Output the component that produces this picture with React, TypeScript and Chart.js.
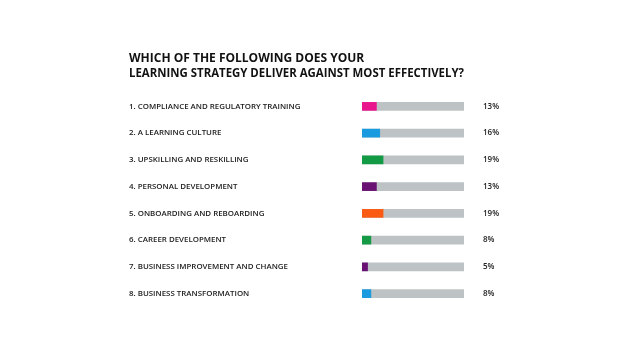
import React, { useEffect, useRef } from "react";
import { Chart, registerables } from "chart.js";

Chart.register(...registerables);

const titleLines = [
  "WHICH OF THE FOLLOWING DOES YOUR",
  "LEARNING STRATEGY DELIVER AGAINST MOST EFFECTIVELY?",
];

const categories = [
  "1. COMPLIANCE AND REGULATORY TRAINING",
  "2. A LEARNING CULTURE",
  "3. UPSKILLING AND RESKILLING",
  "4. PERSONAL DEVELOPMENT",
  "5. ONBOARDING AND REBOARDING",
  "6. CAREER DEVELOPMENT",
  "7. BUSINESS IMPROVEMENT AND CHANGE",
  "8. BUSINESS TRANSFORMATION",
];

const values = [13, 16, 19, 13, 19, 8, 5, 8];

const barColors = [
  "#e8158c",
  "#1a9be0",
  "#139a45",
  "#6a1274",
  "#fb5a12",
  "#179a45",
  "#6a1274",
  "#1a9be0",
];

const trackColor = "#bdc3c4";
const scaleMax = 92;
const trackValues = categories.map(() => scaleMax);

const FONT = "'Open Sans', 'Liberation Sans', sans-serif";

const valueLabelPlugin = {
  id: "valueLabels",
  afterDatasetsDraw(chart: any) {
    const { ctx, chartArea } = chart;
    const meta = chart.getDatasetMeta(0);
    ctx.save();
    ctx.font = `600 8px ${FONT}`;
    ctx.fillStyle = "#222222";
    ctx.textAlign = "left";
    ctx.textBaseline = "middle";
    meta.data.forEach((bar: any, i: number) => {
      ctx.fillText(`${values[i]}%`, chartArea.right + 19, bar.y);
    });
    ctx.restore();
  },
};

export default function App() {
  const ref = useRef<HTMLCanvasElement | null>(null);

  useEffect(() => {
    if (!ref.current) return;
    const chart = new Chart(ref.current, {
      type: "bar",
      data: {
        labels: categories,
        datasets: [
          {
            data: values,
            backgroundColor: barColors,
            barThickness: 8,
            grouped: false,
            order: 0,
          } as any,
          {
            data: trackValues,
            backgroundColor: trackColor,
            barThickness: 8,
            grouped: false,
            order: 1,
          } as any,
        ],
      },
      options: {
        indexAxis: "y",
        animation: false,
        responsive: false,
        maintainAspectRatio: false,
        layout: { padding: { left: 129, right: 176, top: 51, bottom: 53 } },
        plugins: {
          legend: { display: false },
          tooltip: { enabled: false },
          title: {
            display: true,
            text: titleLines,
            align: "start",
            color: "#111111",
            font: { family: FONT, size: 12, weight: "bold", lineHeight: 1.25 },
            padding: { top: 0, bottom: 12 },
          },
        },
        scales: {
          x: {
            display: false,
            min: 0,
            max: scaleMax,
          },
          y: {
            grid: { display: false },
            border: { display: false },
            ticks: {
              crossAlign: "far",
              color: "#222222",
              padding: 0,
              font: { family: FONT, size: 7.9, weight: 600 },
            },
            afterFit(axis: any) {
              axis.width = 233;
            },
          },
        },
      },
      plugins: [valueLabelPlugin],
    });
    return () => chart.destroy();
  }, []);

  return (
    <div style={{ position: "fixed", left: 0, top: 0, width: 640, height: 360, background: "#fff" }}>
      <canvas ref={ref} width={640} height={360} style={{ display: "block" }} />
    </div>
  );
}
